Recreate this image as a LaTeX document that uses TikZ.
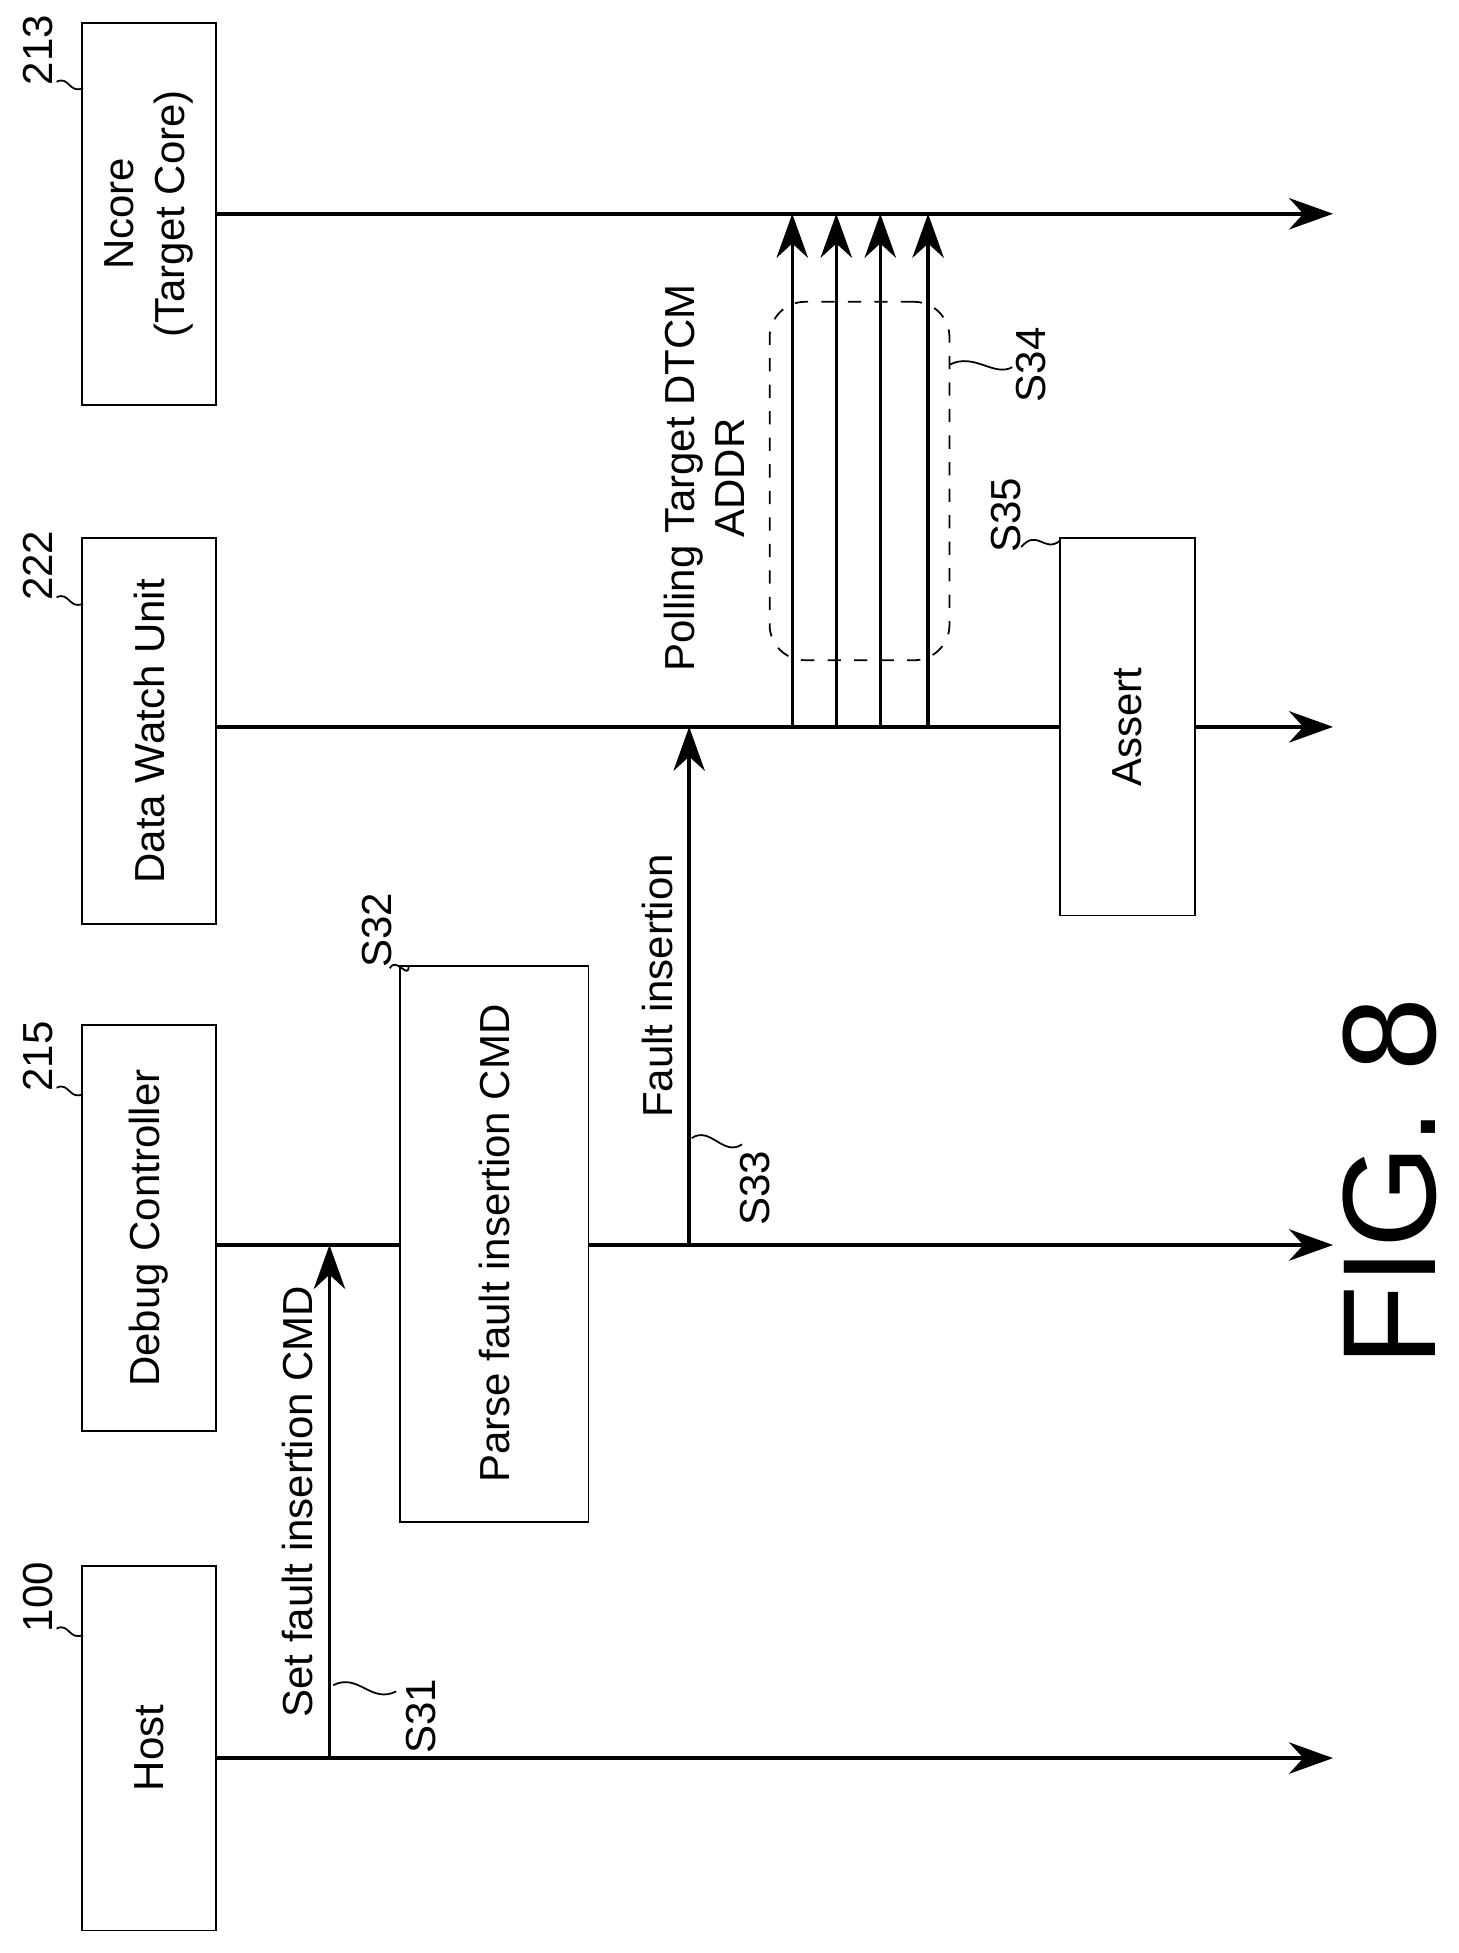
\documentclass[tikz,border=0pt]{standalone}
\usepackage{fontspec}
\setmainfont{Liberation Sans}
\usetikzlibrary{arrows.meta,positioning}

\begin{document}
\begin{tikzpicture}[
    unit/.style={draw,rotate=90,minimum height=1.07cm,align=center,font=\fontsize{9.5}{11.5}\selectfont},
    action/.style={draw,rotate=90,align=center,font=\fontsize{9.5}{11.5}\selectfont},
    life/.style={-{Stealth[length=3.5mm,width=2.5mm]},thick},
    msg/.style={-{Stealth[length=3.5mm,width=2.5mm]},thick},
    lbl/.style={rotate=90,font=\fontsize{9.5}{11.5}\selectfont},
    ref/.style={rotate=90,font=\fontsize{9.5}{11.5}\selectfont},
    tick/.style={thin}
  ]
    \useasboundingbox (0,0) rectangle (11.6,-15.53);

    % Units
    \node[unit,minimum width=2.9cm] (host) at (1.185,-13.9) {Host};
    \node[unit,minimum width=3.23cm] (dbg) at (1.185,-9.765) {Debug Controller};
    \node[unit,minimum width=3.07cm] (dwu) at (1.185,-5.815) {Data Watch Unit};
    \node[unit,minimum width=3.04cm] (ncore) at (1.185,-1.70) {Ncore\\(Target Core)};

    % Reference numbers
    \node[ref] (n100) at (0.30,-12.70) {100};
    \node[ref] (n215) at (0.30,-8.40) {215};
    \node[ref] (n222) at (0.30,-4.50) {222};
    \node[ref] (n213) at (0.30,-0.40) {213};
    \draw[tick] (0.45,-12.95) .. controls (0.55,-12.90) and (0.55,-13.05) .. (0.66,-13.00);
    \draw[tick] (0.45,-8.65) .. controls (0.55,-8.60) and (0.55,-8.75) .. (0.66,-8.70);
    \draw[tick] (0.45,-4.75) .. controls (0.55,-4.70) and (0.55,-4.85) .. (0.66,-4.80);
    \draw[tick] (0.45,-0.65) .. controls (0.55,-0.60) and (0.55,-0.75) .. (0.66,-0.70);

    % Lifeline ends
    \coordinate (hostE) at (10.6,-13.98);
    \coordinate (dbgE) at (10.6,-9.90);
    \coordinate (dwuE) at (10.6,-5.78);
    \coordinate (ncoreE) at (10.6,-1.70);

    % Steps
    \node[action,minimum width=4.42cm,minimum height=1.5cm] (parse) at (3.93,-9.89) {Parse fault insertion CMD};
    \node[action,minimum width=3.0cm,minimum height=1.07cm] (assert) at (8.965,-5.78) {Assert};

    % Lifelines
    \draw[life] (host.south |- hostE) -- (hostE);
    \draw[thick] (dbg.south |- dbgE) -- (parse.north |- dbgE);
    \draw[life] (parse.south |- dbgE) -- (dbgE);
    \draw[thick] (dwu.south |- dwuE) -- (assert.north |- dwuE);
    \draw[life] (assert.south |- dwuE) -- (dwuE);
    \draw[life] (ncore.south |- ncoreE) -- (ncoreE);

    % S31
    \coordinate (s31a) at (2.62,-13.98);
    \coordinate (s31b) at (2.62,-9.90);
    \draw[msg] (s31a) -- node[lbl,above] {Set fault insertion CMD} (s31b);
    \node[ref] (s31) at (3.35,-13.65) {S31};
    \draw[tick] (2.65,-13.40) .. controls (2.85,-13.30) and (2.95,-13.55) .. (3.15,-13.45);

    % S32
    \node[ref] (s32) at (3.00,-7.40) {S32};
    \draw[tick] (3.10,-7.70) .. controls (3.15,-7.60) and (3.25,-7.80) .. (3.25,-7.68);

    % S33
    \coordinate (s33a) at (5.48,-9.90);
    \coordinate (s33b) at (5.48,-5.78);
    \draw[msg] (s33a) -- node[lbl,above] {Fault insertion} (s33b);
    \node[ref] (s33) at (6.00,-9.45) {S33};
    \draw[tick] (5.50,-9.05) .. controls (5.65,-8.95) and (5.75,-9.20) .. (5.90,-9.10);

    % S34 polling
    \foreach \x in {6.30,6.65,7.00,7.38}{
      \draw[msg] (\x,-5.78) -- (\x,-1.70);
    }
    \node[draw,dashed,thin,rounded corners=8pt,minimum width=1.43cm,minimum height=2.85cm] (poll) at (6.835,-3.825) {};
    \node[lbl,align=center] (polltxt) at (5.60,-3.80) {Polling Target DTCM\\ADDR};
    \node[ref] (s34) at (8.20,-2.90) {S34};
    \draw[tick] (7.55,-2.90) .. controls (7.75,-2.80) and (7.90,-3.00) .. (8.05,-2.92);

    % S35
    \node[ref] (s35) at (8.00,-4.10) {S35};
    \draw[tick] (8.43,-4.30) .. controls (8.30,-4.40) and (8.25,-4.20) .. (8.12,-4.35);

    % Figure title
    \node[rotate=90,font=\fontsize{30}{34}\selectfont] (fig) at (11.05,-9.40) {FIG. 8};
\end{tikzpicture}
\end{document}
